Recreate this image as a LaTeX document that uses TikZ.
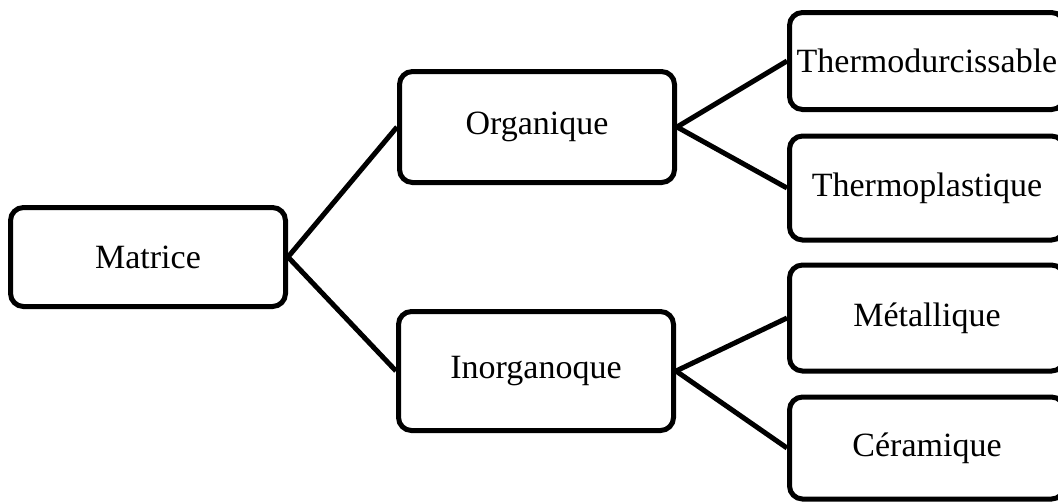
\documentclass[tikz,border=0pt]{standalone}
\usepackage{fontspec}
\setmainfont{Liberation Serif}
\usepackage{tikz}
\tikzset{
  boite/.style={draw, line width=5pt, rounded corners=13pt, minimum width=275pt,
    font=\fontsize{34}{40}\selectfont, inner sep=0pt},
  lien/.style={line width=5pt}
}

\begin{document}
\begin{tikzpicture}[x=1pt,y=-1pt]
  \clip (0,0) rectangle (1058,501);

  % racine
  \node[boite, minimum height=99pt] (matrice) at (148,257) {Matrice};

  % deux familles
  \node[boite, minimum height=111pt] (organique) at (537,127) {Organique};
  \node[boite, minimum height=119pt] (inorganique) at (536,371) {Inorganoque};

  % feuilles, coupees a droite
  \node[boite, minimum height=97pt] (thermodur) at (927,61) {Thermodurcissable};
  \node[boite, minimum height=104pt] (thermoplast) at (927,188) {Thermoplastique};
  \node[boite, minimum height=106pt] (metal) at (927,318) {Métallique};
  \node[boite, minimum height=102pt] (ceram) at (927,448) {Céramique};

  % liens
  \draw[lien] (matrice.east) -- (organique.west);
  \draw[lien] (matrice.east) -- (inorganique.west);
  \draw[lien] (organique.east) -- (thermodur.west);
  \draw[lien] (organique.east) -- (thermoplast.west);
  \draw[lien] (inorganique.east) -- (metal.west);
  \draw[lien] (inorganique.east) -- (ceram.west);
\end{tikzpicture}
\end{document}
